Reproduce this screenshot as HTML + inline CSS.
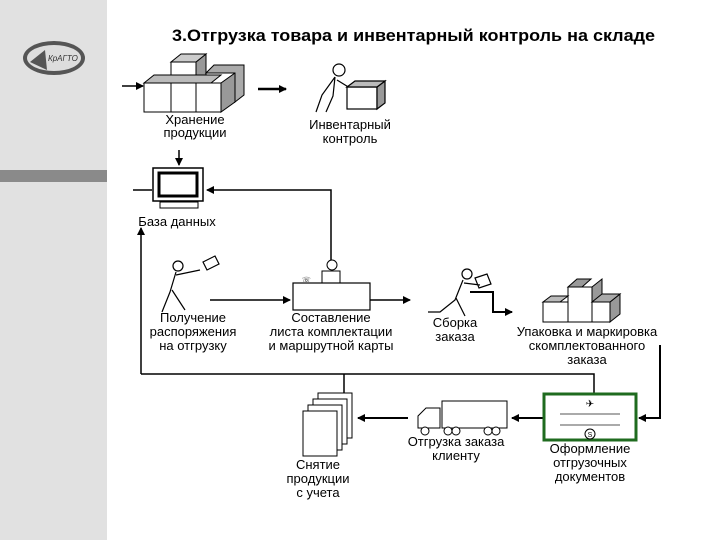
<!DOCTYPE html>
<html><head><meta charset="utf-8"><style>
body{margin:0;width:720px;height:540px;background:#fff;overflow:hidden;font-family:"Liberation Sans",sans-serif}
</style></head><body>
<svg width="720" height="540" xmlns="http://www.w3.org/2000/svg" font-family="Liberation Sans, sans-serif">
<defs><marker id="a" markerWidth="8" markerHeight="8" refX="7" refY="4" orient="auto" markerUnits="userSpaceOnUse"><path d="M0,0 L8,4 L0,8 z" fill="#000"/></marker></defs>
<rect x="0" y="0" width="107" height="540" fill="#e1e1e1"/>
<rect x="0" y="170" width="107" height="12" fill="#8a8a8a"/>
<ellipse cx="54" cy="58" rx="31" ry="17" fill="#555"/>
<ellipse cx="54" cy="58" rx="27" ry="13" fill="#ddd"/>
<path d="M30,62 L45,50 L47,70 Z" fill="#555"/>
<text x="48" y="61" font-size="8" font-style="italic" fill="#333">КрАГТО</text>
<text x="172" y="41" font-size="17" font-weight="bold" textLength="483" lengthAdjust="spacingAndGlyphs" fill="#000">3.Отгрузка товара и инвентарный контроль на складе</text>
<g stroke="#000" stroke-width="1.5" fill="none">
<line x1="122" y1="86" x2="143" y2="86" marker-end="url(#a)"/>
<line x1="258" y1="89" x2="286" y2="89" stroke-width="2.5" marker-end="url(#a)"/>
<line x1="179" y1="150" x2="179" y2="165" marker-end="url(#a)"/>
<line x1="133" y1="190" x2="152" y2="190"/>
<polyline points="331,262 331,190 207,190" marker-end="url(#a)"/>
<polyline points="141,374 141,228" marker-end="url(#a)"/>
<polyline points="141,374 594,374 594,393"/>
<line x1="344" y1="374" x2="344" y2="400"/>
<polyline points="660,345 660,418 639,418" stroke-width="2" marker-end="url(#a)"/>
<line x1="210" y1="300" x2="290" y2="300" marker-end="url(#a)"/>
<line x1="370" y1="300" x2="410" y2="300" marker-end="url(#a)"/>
<polyline points="470,292 493,292 493,312 512,312" stroke-width="2" marker-end="url(#a)"/>
<line x1="543" y1="418" x2="512" y2="418" stroke-width="2" marker-end="url(#a)"/>
<line x1="408" y1="418" x2="358" y2="418" stroke-width="2" marker-end="url(#a)"/>
</g>
<g stroke="#000" stroke-width="1" fill="#fff">
<rect x="144" y="83" width="27" height="29"/><rect x="171" y="83" width="25" height="29"/><rect x="196" y="83" width="25" height="29"/>
<rect x="171" y="62" width="25" height="21"/>
<path d="M196,62 l10,-8 l0,29 l-10,0z" fill="#999"/>
<path d="M221,83 l14,-10 l0,29 l-14,10z" fill="#999"/>
<path d="M144,83 l10,-8 l67,0 l-10,8z" fill="#bbb"/>
<path d="M171,62 l10,-8 l25,0 l-10,8z" fill="#ccc"/>
<path d="M206,73 l8,-8 l30,0 l0,30 l-9,7 l0,-29z" fill="#aaa"/>
</g>
<g font-size="13" text-anchor="middle">
<text x="195" y="124">Хранение</text>
<text x="195" y="137">продукции</text>
<text x="350" y="129">Инвентарный</text>
<text x="350" y="143">контроль</text>
<text x="177" y="226">База данных</text>
<text x="193" y="322">Получение</text>
<text x="193" y="336">распоряжения</text>
<text x="193" y="350">на отгрузку</text>
<text x="331" y="322">Составление</text>
<text x="331" y="336">листа комплектации</text>
<text x="331" y="350">и маршрутной карты</text>
<text x="455" y="327">Сборка</text>
<text x="455" y="341">заказа</text>
<text x="587" y="336">Упаковка и маркировка</text>
<text x="587" y="350">скомплектованного</text>
<text x="587" y="364">заказа</text>
<text x="590" y="453">Оформление</text>
<text x="590" y="467">отгрузочных</text>
<text x="590" y="481">документов</text>
<text x="456" y="446">Отгрузка заказа</text>
<text x="456" y="460">клиенту</text>
<text x="318" y="469">Снятие</text>
<text x="318" y="483">продукции</text>
<text x="318" y="497">с учета</text>
</g>
<g stroke="#000" stroke-width="1.2" fill="#fff">
<circle cx="339" cy="70" r="6"/>
<path d="M335,77 L322,95 L316,112 M335,77 L333,96 L326,112 M337,80 L350,88" fill="none"/>
<rect x="347" y="87" width="30" height="22"/>
<path d="M377,87 l8,-6 l0,22 l-8,6z" fill="#999"/>
<path d="M347,87 l8,-6 l30,0 l-8,6z" fill="#bbb"/>
</g>
<rect x="153" y="168" width="50" height="33" fill="#fff" stroke="#000" stroke-width="1.5"/>
<rect x="159" y="173" width="38" height="23" fill="#fff" stroke="#000" stroke-width="3"/>
<rect x="160" y="202" width="38" height="6" fill="#fff" stroke="#000"/>
<g stroke="#000" stroke-width="1.2" fill="none">
<circle cx="178" cy="266" r="5"/>
<path d="M176,272 L170,292 L162,312 M172,290 L185,310 M176,275 L200,270 M203,262 l12,-6 l4,8 l-12,6z"/>
</g>
<circle cx="332" cy="265" r="5" fill="#fff" stroke="#000"/>
<rect x="322" y="271" width="18" height="12" fill="#fff" stroke="#000"/>
<rect x="293" y="283" width="77" height="27" fill="#fff" stroke="#000" stroke-width="1.2"/>
<text x="302" y="282" font-size="7">☏</text>
<g stroke="#000" stroke-width="1.2" fill="none">
<circle cx="467" cy="274" r="5"/>
<path d="M463,280 L455,300 L440,312 L428,312 M456,298 L465,316 M464,283 L480,285 M475,278 l12,-4 l4,10 l-12,4z"/>
</g>
<g stroke="#000" stroke-width="1" fill="#fff">
<rect x="543" y="302" width="25" height="20"/><rect x="568" y="287" width="24" height="35"/><rect x="592" y="302" width="18" height="20"/>
<path d="M543,302 l8,-6 l17,0 l-8,6z" fill="#bbb"/>
<path d="M568,287 l9,-8 l14,0 l-9,8z" fill="#999"/>
<path d="M592,287 l10,-8 l0,23 l-10,0z" fill="#999"/>
<path d="M610,302 l10,-8 l0,20 l-10,8z" fill="#999"/>
<path d="M592,302 l10,-8 l18,0 l-10,8z" fill="#aaa"/>
</g>
<rect x="544" y="394" width="92" height="46" fill="#fff" stroke="#1f6b1f" stroke-width="3"/>
<text x="590" y="407" font-size="10" text-anchor="middle">✈</text>
<line x1="560" y1="414" x2="620" y2="414" stroke="#555"/>
<line x1="560" y1="425" x2="620" y2="425" stroke="#555"/>
<circle cx="590" cy="434" r="5" fill="#fff" stroke="#000"/>
<text x="590" y="437" font-size="7" text-anchor="middle">S</text>
<g stroke="#000" stroke-width="1" fill="#fff">
<rect x="442" y="401" width="65" height="27"/>
<path d="M418,428 l0,-12 l8,-8 l14,0 l0,20z"/>
<circle cx="425" cy="431" r="4"/><circle cx="448" cy="431" r="4"/><circle cx="456" cy="431" r="4"/><circle cx="488" cy="431" r="4"/><circle cx="496" cy="431" r="4"/>
</g>
<g stroke="#000" stroke-width="1" fill="#fff">
<rect x="318" y="393" width="34" height="45"/><rect x="313" y="399" width="34" height="45"/><rect x="308" y="405" width="34" height="45"/><rect x="303" y="411" width="34" height="45"/>
</g>
</svg>
</body></html>
